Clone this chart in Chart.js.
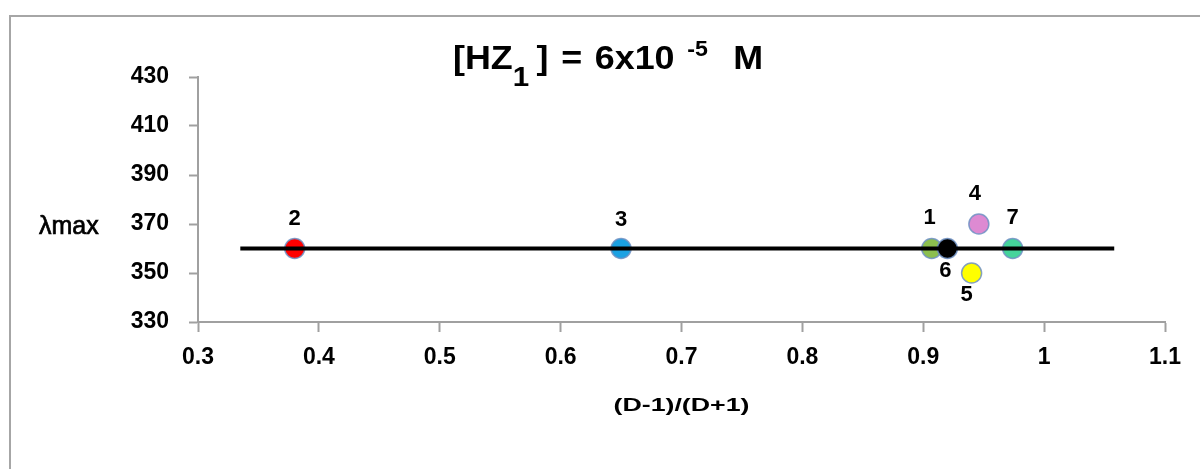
<!DOCTYPE html>
<html>
<head>
<meta charset="utf-8">
<title>lambda max vs (D-1)/(D+1)</title>
<script src="https://cdn.jsdelivr.net/npm/chart.js@4.4.1/dist/chart.umd.min.js"></script>
<style>
    html, body { margin: 0; padding: 0; background: #ffffff; }
    #wrap { width: 1200px; height: 469px; }
</style>
</head>
<body>
<div id="wrap"><canvas id="lambdaChart" width="1200" height="469"></canvas></div>
<script>
// Data
const pointNames = ['1', '2', '3', '4', '5', '6', '7'];
const xValues = [0.907, 0.38, 0.65, 0.946, 0.94, 0.92, 0.974];
const yValues = [360, 360, 360, 370, 350, 360, 360];
const lineX = [0.335, 1.058];
const lineY = [360, 360];
const xTicks = [0.3, 0.4, 0.5, 0.6, 0.7, 0.8, 0.9, 1, 1.1];
const yTicks = [330, 350, 370, 390, 410, 430];

// Styles
const pointColors = ['#8cbf4f', '#ff0000', '#1ba1e2', '#dd8ad2', '#ffff00', '#000000', '#45d49b'];
const labelOffsets = [[-2, -31], [0, -30], [0, -29], [-4, -30], [-5, 22], [-2, 22], [0, -31]];
const axisGray = '#a0a0a0';
const fontFamily = "'Liberation Sans', Arial, sans-serif";

document.addEventListener('DOMContentLoaded', function () {
    const canvas = document.getElementById('lambdaChart');
    if (!canvas) {
        console.error("Cannot find canvas");
        return;
    }

    // draw text squeezed/stretched into a given width
    function fitText(ctx, text, cx, cy, width) {
        const w = ctx.measureText(text).width;
        ctx.save();
        ctx.translate(cx, cy);
        ctx.scale(width / w, 1);
        ctx.fillText(text, 0, 0);
        ctx.restore();
    }

    // Outer frame, title, axis titles and point numbers
    const decorPlugin = {
        id: 'decor',
        beforeDraw(chart) {
            const ctx = chart.ctx;
            ctx.save();
            ctx.fillStyle = '#ffffff';
            ctx.fillRect(0, 0, chart.width, chart.height);
            ctx.strokeStyle = '#a6a6a6';
            ctx.lineWidth = 2;
            ctx.beginPath();
            ctx.moveTo(10, 470);
            ctx.lineTo(10, 16);
            ctx.lineTo(1200, 16);
            ctx.stroke();
            ctx.restore();
        },
        afterDraw(chart) {
            const ctx = chart.ctx;
            const xScale = chart.scales.x;
            const yScale = chart.scales.y;
            ctx.save();
            ctx.fillStyle = '#000000';
            ctx.textBaseline = 'alphabetic';

            // title: [HZ1 ] = 6x10^-5 M
            const parts = [
                { t: '[HZ', font: 'bold 34px ' + fontFamily, dy: 0, gap: 0 },
                { t: '1', font: 'bold 28px ' + fontFamily, dy: 17, gap: 0 },
                { t: ']', font: 'bold 34px ' + fontFamily, dy: 0, gap: 7 },
                { t: '=', font: 'bold 34px ' + fontFamily, dy: 0, gap: 12 },
                { t: '6x10', font: 'bold 34px ' + fontFamily, dy: 0, gap: 12 },
                { t: '-5', font: 'bold 22px ' + fontFamily, dy: -13, gap: 12 },
                { t: 'M', font: 'bold 34px ' + fontFamily, dy: 0, gap: 24 }
            ];
            let total = 0;
            parts.forEach(p => { ctx.font = p.font; p.w = ctx.measureText(p.t).width; total += p.w + p.gap; });
            const titleLeft = 453, titleRight = 763;
            const sx = (titleRight - titleLeft) / total;
            ctx.save();
            ctx.translate(titleLeft, 69);
            ctx.scale(sx, 1);
            ctx.textAlign = 'left';
            let x = 0;
            parts.forEach(p => {
                x += p.gap;
                ctx.font = p.font;
                ctx.fillText(p.t, x, p.dy);
                x += p.w;
            });
            ctx.restore();

            // y axis title, written horizontally
            ctx.font = '25px ' + fontFamily;
            ctx.textAlign = 'left';
            ctx.textBaseline = 'middle';
            ctx.strokeStyle = '#000000';
            ctx.lineWidth = 0.7;
            const ly = yScale.getPixelForValue(370) + 3;
            ctx.fillText('\u03bbmax', 39, ly);
            ctx.strokeText('\u03bbmax', 39, ly);

            // x axis title, centred under the plot
            ctx.font = 'bold 19px ' + fontFamily;
            ctx.textAlign = 'center';
            fitText(ctx, '(D-1)/(D+1)', (xScale.left + xScale.right) / 2, 406, 136);
            ctx.restore();
        },
        afterDatasetsDraw(chart) {
            const ctx = chart.ctx;
            const meta = chart.getDatasetMeta(1);
            ctx.save();
            ctx.font = 'bold 22px ' + fontFamily;
            ctx.fillStyle = '#000000';
            ctx.textAlign = 'center';
            ctx.textBaseline = 'middle';
            meta.data.forEach((pt, i) => {
                const off = labelOffsets[i];
                ctx.fillText(pointNames[i], pt.x + off[0], pt.y + off[1]);
            });
            ctx.restore();
        }
    };

    try {
        const chart = new Chart(canvas, {
            type: 'scatter',
            data: {
                datasets: [
                    {
                        type: 'line',
                        label: 'fit',
                        data: lineX.map((v, i) => ({ x: v, y: lineY[i] })),
                        borderColor: '#000000',
                        borderWidth: 4,
                        pointRadius: 0,
                        fill: false,
                        tension: 0,
                        order: 0
                    },
                    {
                        label: 'compounds',
                        data: xValues.map((v, i) => ({ x: v, y: yValues[i] })),
                        backgroundColor: pointColors,
                        borderColor: 'rgba(110, 145, 195, 0.85)',
                        borderWidth: 1.5,
                        pointRadius: 10,
                        order: 1
                    }
                ]
            },
            options: {
                responsive: false,
                animation: false,
                layout: {
                    padding: { left: 0, top: 77, right: 35, bottom: 87 }
                },
                plugins: {
                    legend: { display: false },
                    title: { display: false },
                    tooltip: { enabled: false }
                },
                scales: {
                    x: {
                        type: 'linear',
                        min: xTicks[0],
                        max: xTicks[xTicks.length - 1],
                        afterFit: function (scale) { scale.height = 60; },
                        afterBuildTicks: function (scale) {
                            scale.ticks = xTicks.map(v => ({ value: v }));
                        },
                        border: { color: axisGray, width: 2 },
                        grid: {
                            drawOnChartArea: false,
                            drawTicks: true,
                            tickLength: 10,
                            tickColor: axisGray,
                            tickWidth: 2
                        },
                        ticks: {
                            padding: 12,
                            color: '#000000',
                            maxRotation: 0,
                            autoSkip: false,
                            callback: function (value) {
                                return String(parseFloat(value.toFixed(1)));
                            },
                            font: { family: fontFamily, size: 23, weight: 'bold' }
                        }
                    },
                    y: {
                        min: yTicks[0],
                        max: yTicks[yTicks.length - 1],
                        afterFit: function (scale) { scale.width = 198; },
                        afterBuildTicks: function (scale) {
                            scale.ticks = yTicks.map(v => ({ value: v }));
                        },
                        border: { color: axisGray, width: 2 },
                        grid: {
                            drawOnChartArea: false,
                            drawTicks: true,
                            tickLength: 9,
                            tickColor: axisGray,
                            tickWidth: 2
                        },
                        ticks: {
                            padding: 20,
                            color: '#000000',
                            font: { family: fontFamily, size: 23, weight: 'bold' }
                        }
                    }
                }
            },
            plugins: [decorPlugin]
        });
        window.lambdaChart = chart;
        console.log("Chart created");
    } catch (error) {
        console.error("Error creating chart:", error);
    }
});
</script>
</body>
</html>
